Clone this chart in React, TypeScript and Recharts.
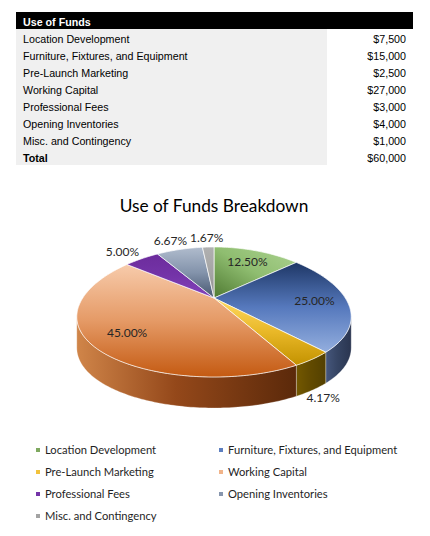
import React from "react";
import { PieChart, Pie, Cell, Legend } from "recharts";

const categories = [
  "Location Development",
  "Furniture, Fixtures, and Equipment",
  "Pre-Launch Marketing",
  "Working Capital",
  "Professional Fees",
  "Opening Inventories",
  "Misc. and Contingency",
];
const amounts = [7500, 15000, 2500, 27000, 3000, 4000, 1000];
const tableTitle = "Use of Funds";
const totalName = "Total";
const chartTitle = "Use of Funds Breakdown";

// colours
const legendColors = ["#7fa960", "#5d7fc0", "#f2c23c", "#f1b48a", "#7434a8", "#8796ae", "#a3a3a3"];
const topStops = [
  ["#acd391", "#8fbd70", "#4f7a32"],
  ["#1e3766", "#5679bd", "#93aede"],
  ["#ffd962", "#e9b828", "#c39200"],
  ["#f7cbab", "#e59a66", "#c45a12"],
  ["#6c2c9c", "#7434a8", "#8443bb"],
  ["#b0bccd", "#8393ab", "#46566f"],
  ["#b0b0b0", "#a5a5a5", "#8e8e8e"],
];
const wallStops = [
  ["#4a6b30", "#3e5a28", "#33491f"],
  ["#46577c", "#364564", "#2a3550"],
  ["#735800", "#634b00", "#534000"],
  ["#d08549", "#94481a", "#5b290a"],
  ["#5a2480", "#4c1e6c", "#3e1858"],
  ["#56657c", "#485569", "#3a4556"],
  ["#888888", "#777777", "#666666"],
];

const K = 0.215; // perspective
const RY = 0.4627; // vertical squash
const E = 5;
const D = 31; // side depth
const EDGE = (Math.asin(K) * 180) / Math.PI;
const frontWindows = [
  [-180 + EDGE, -EDGE],
  [180 + EDGE, 360 - EDGE],
];

const data = categories.map((name, i) => ({ name, value: amounts[i] }));
const total = amounts.reduce((a, b) => a + b, 0);
const money = (n: number) => "$" + n.toLocaleString("en-US");

function proj(cx: number, cy: number, rx: number, deg: number, r: number) {
  const a = (deg * Math.PI) / 180;
  const u = r * Math.cos(a);
  const v = r * Math.sin(a);
  const s = 1 / (1 + K * v);
  return [cx + rx * u * s, cy - rx * RY * v * s + E * r * r * Math.cos(a) ** 2];
}

function arc(cx: number, cy: number, rx: number, from: number, to: number, dy = 0) {
  const n = Math.max(2, Math.ceil(Math.abs(to - from)) + 1);
  const pts: string[] = [];
  for (let i = 0; i < n; i++) {
    const d = from + ((to - from) * i) / (n - 1);
    const [x, y] = proj(cx, cy, rx, d, 1);
    pts.push(`${x.toFixed(2)},${(y + dy).toFixed(2)}`);
  }
  return pts;
}

const renderSlice = (props: any) => {
  const { cx, cy, outerRadius, startAngle, endAngle, midAngle, percent, index } = props;
  const rx = outerRadius;
  const lo = Math.min(startAngle, endAngle);
  const hi = Math.max(startAngle, endAngle);

  const topPts = arc(cx, cy, rx, startAngle, endAngle);
  const topPath = `M${cx},${cy} L${topPts.join(" L")} Z`;

  const walls: string[] = [];
  frontWindows.forEach(([w0, w1]) => {
    const a0 = Math.max(lo, w0);
    const a1 = Math.min(hi, w1);
    if (a1 > a0) {
      const up = arc(cx, cy, rx, a0, a1);
      const down = arc(cx, cy, rx, a1, a0, D);
      walls.push(`M${up.join(" L")} L${down.join(" L")} Z`);
    }
  });

  // label
  const text = (percent * 100).toFixed(2) + "%";
  const a = (midAngle * Math.PI) / 180;
  let lx: number;
  let ly: number;
  if (percent > 0.1) {
    [lx, ly] = proj(cx, cy, rx, midAngle, 0.75);
  } else if (Math.sin(a) < 0) {
    [lx, ly] = proj(cx, cy, rx, midAngle, 1.05);
    lx += Math.cos(a) * 8;
    ly += D - Math.sin(a) * 5;
  } else {
    [lx, ly] = proj(cx, cy, rx, midAngle, 1.12);
    lx += Math.cos(a) * 19;
    ly -= Math.sin(a) * 5;
  }

  const ts = topStops[index];
  const ws = wallStops[index];
  return (
    <g key={`slice-${index}`}>
      <defs>
        <linearGradient id={`top${index}`} x1={index === 0 ? 1 : 0} y1="0" x2="0" y2="1">
          <stop offset="0%" stopColor={ts[0]} />
          <stop offset="50%" stopColor={ts[1]} />
          <stop offset="100%" stopColor={ts[2]} />
        </linearGradient>
        <linearGradient id={`wall${index}`} x1="0" y1="0" x2="1" y2="0">
          <stop offset="0%" stopColor={ws[0]} />
          <stop offset="45%" stopColor={ws[1]} />
          <stop offset="100%" stopColor={ws[2]} />
        </linearGradient>
      </defs>
      {walls.map((d, i) => (
        <path key={i} d={d} fill={`url(#wall${index})`} stroke="rgba(255,255,255,0.45)" strokeWidth={0.6} />
      ))}
      <path d={topPath} fill={`url(#top${index})`} stroke="rgba(255,255,255,0.85)" strokeWidth={0.8} strokeLinejoin="round" />
      <text
        x={lx}
        y={ly}
        textAnchor="middle"
        dominantBaseline="central"
        fontFamily="Lato"
        fontSize={12}
        fill="#262626"
      >
        {text}
      </text>
    </g>
  );
};

const renderLegend = (props: any) => {
  const items = (props.payload || [])
    .filter((p: any) => p.type !== "none")
    .sort((p: any, q: any) => categories.indexOf(p.value) - categories.indexOf(q.value));
  return (
    <div style={{ position: "relative", width: 430, height: 90, fontFamily: "Lato", fontSize: 11.2, color: "#1f1f1f" }}>
      {items.map((p: any, i: number) => {
        const col = i % 2;
        const row = Math.floor(i / 2);
        return (
          <div
            key={p.value}
            style={{ position: "absolute", left: col ? 219 : 36, top: row * 22, height: 18, lineHeight: "18px", whiteSpace: "nowrap" }}
          >
            <span
              style={{ display: "inline-block", width: 4, height: 4, background: p.color, verticalAlign: "middle", marginRight: 5, marginTop: -2 }}
            />
            {p.value}
          </div>
        );
      })}
    </div>
  );
};

const cellStyle: React.CSSProperties = {
  height: 17,
  padding: 0,
  paddingTop: 3,
  boxSizing: "border-box",
  lineHeight: "14px",
  verticalAlign: "top",
  whiteSpace: "nowrap",
};

export default function App() {
  return (
    <div style={{ position: "absolute", left: 0, top: 0, width: 430, height: 536, background: "#fff", overflow: "hidden" }}>
      <PieChart width={430} height={536} margin={{ top: 0, right: 0, bottom: 0, left: 0 }}>
        <Pie
          data={data}
          dataKey="value"
          nameKey="name"
          cx={214}
          cy={298}
          outerRadius={134}
          startAngle={90}
          endAngle={-270}
          isAnimationActive={false}
          labelLine={false}
          label={renderSlice}
          fillOpacity={0}
          stroke="none"
          legendType="square"
        >
          {data.map((d, i) => (
            <Cell key={d.name} fill={legendColors[i]} />
          ))}
        </Pie>
        <Legend content={renderLegend} wrapperStyle={{ position: "absolute", left: 0, top: 441, width: 430 }} />
      </PieChart>

      <div
        style={{
          position: "absolute",
          left: 0,
          top: 194,
          width: 428,
          textAlign: "center",
          fontFamily: "Lato",
          fontSize: 17.3,
          lineHeight: "24px",
          color: "#000",
        }}
      >
        {chartTitle}
      </div>

      <table
        style={{
          position: "absolute",
          left: 16,
          top: 12,
          width: 397,
          borderCollapse: "collapse",
          fontFamily: "'Liberation Sans', Arial, sans-serif",
          fontSize: 10.7,
          color: "#000",
        }}
      >
        <tbody>
          <tr style={{ background: "#000", color: "#fff", fontWeight: "bold" }}>
            <td style={{ ...cellStyle, paddingLeft: 7 }} colSpan={2}>
              {tableTitle}
            </td>
          </tr>
          {categories.map((c, i) => (
            <tr key={c}>
              <td style={{ ...cellStyle, paddingLeft: 7, width: 311, background: "#f0f0f0" }}>{c}</td>
              <td style={{ ...cellStyle, textAlign: "right", paddingRight: 7 }}>{money(amounts[i])}</td>
            </tr>
          ))}
          <tr>
            <td style={{ ...cellStyle, paddingLeft: 7, width: 311, background: "#f0f0f0", fontWeight: "bold" }}>{totalName}</td>
            <td style={{ ...cellStyle, textAlign: "right", paddingRight: 7 }}>{money(total)}</td>
          </tr>
        </tbody>
      </table>
    </div>
  );
}
